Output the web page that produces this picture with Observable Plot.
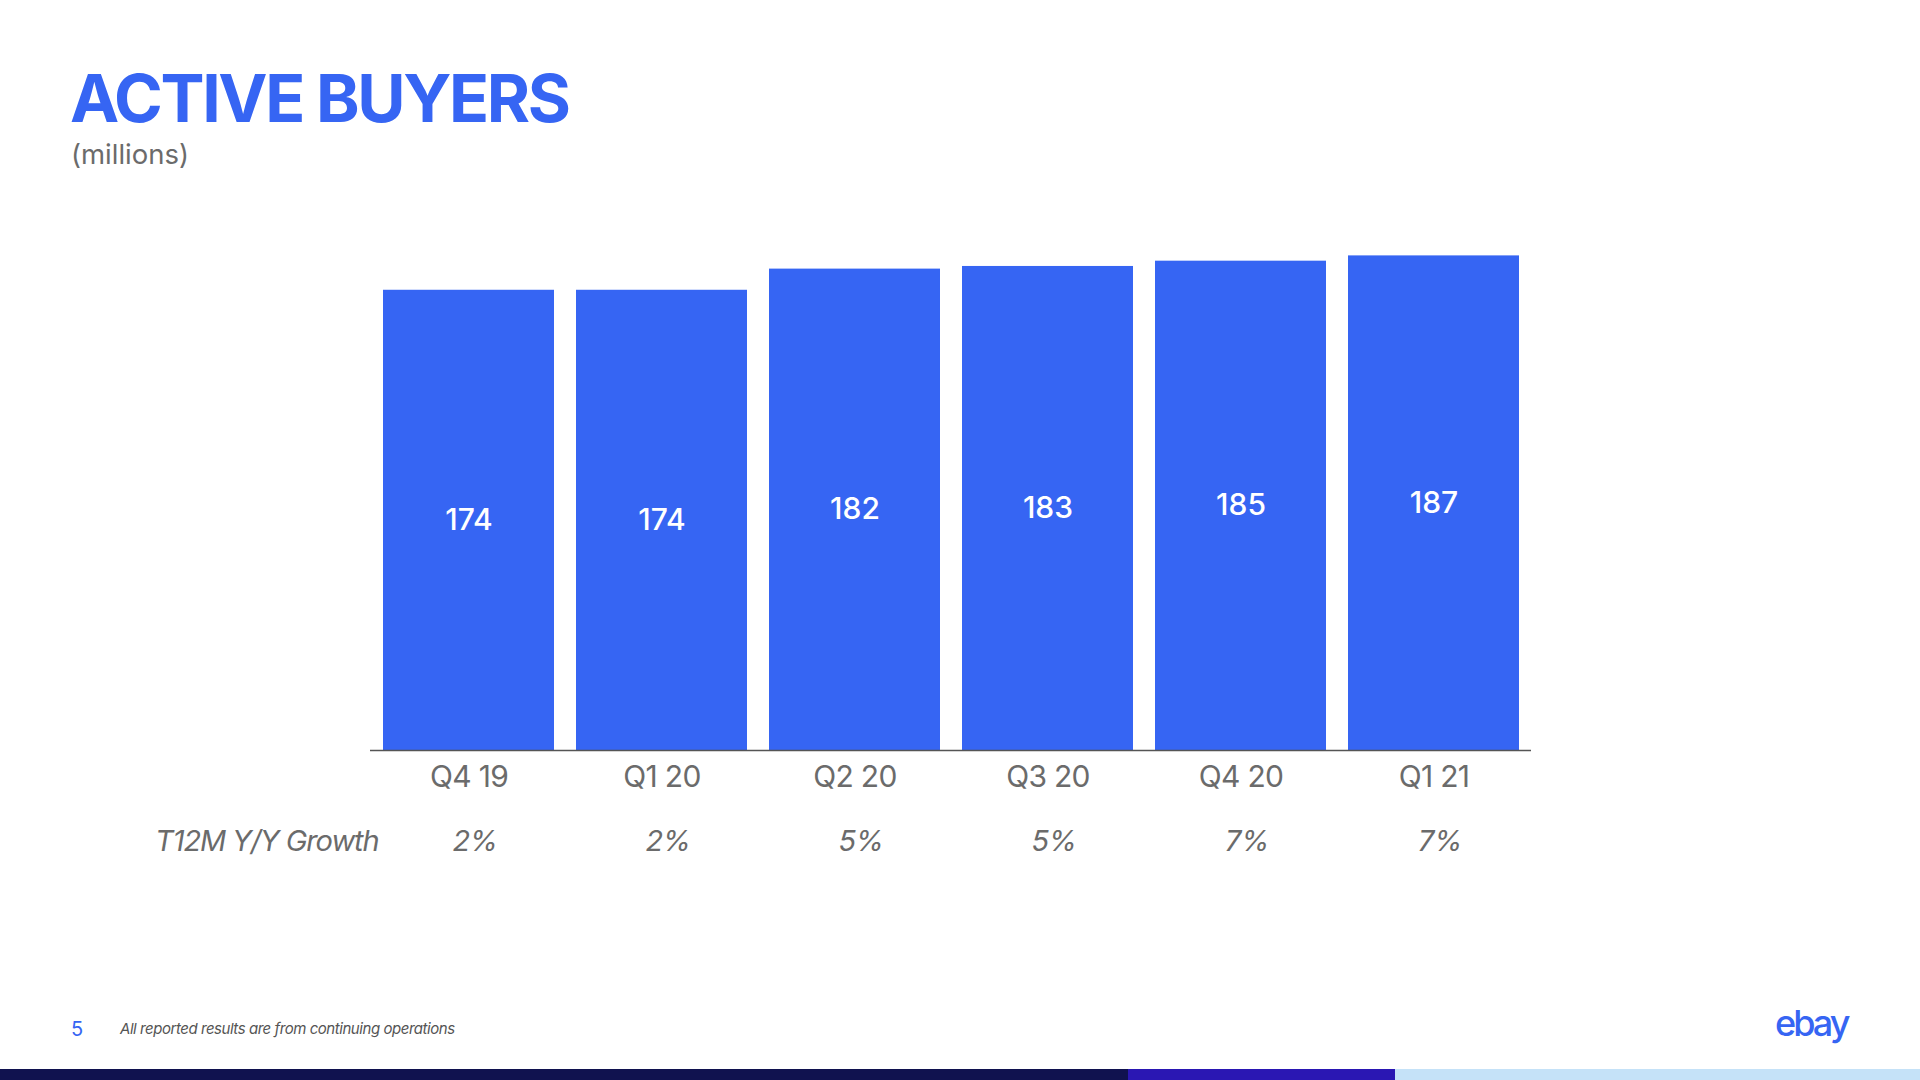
<!DOCTYPE html>
<html>
<head>
<meta charset="utf-8">
<script src="https://cdn.jsdelivr.net/npm/d3@7"></script>
<script src="https://cdn.jsdelivr.net/npm/@observablehq/plot@0.6"></script>
<style>
  html, body { margin: 0; padding: 0; background: #fff; }
  body { width: 1920px; height: 1080px; position: relative; overflow: hidden; font-family: Inter, "Noto Sans", sans-serif; }
  .abs { position: absolute; line-height: 1; white-space: nowrap; }
  #title { left: 70px; top: 72px; font-size: 66px; font-weight: 700; color: #3665f3; letter-spacing: -2.4px; line-height: 0.8; }
  #sub { left: 71px; top: 142px; font-size: 27.5px; color: #6b6b6b; line-height: 0.9; }
  #chart { position: absolute; left: 0; top: 200px; }
  #page { left: 71px; top: 1019px; font-size: 20px; color: #3665f3; }
  #note { left: 120px; top: 1021px; font-size: 15px; font-style: italic; color: #555; letter-spacing: -0.45px; }
  #logo { left: 1775px; top: 1005px; font-size: 36px; font-weight: 500; color: #3665f3; letter-spacing: -3px; }
  .band { position: absolute; top: 1069px; height: 11px; }
  #chart text[aria-label="growth label"] { letter-spacing: -1.1px; }
  #chart g[aria-label="x-axis tick label"] text { letter-spacing: -0.7px; }
  #chart text[aria-label="growth value"] { letter-spacing: -0.5px; }
</style>
</head>
<body>
<div id="title" class="abs">ACTIVE BUYERS</div>
<div id="sub" class="abs">(millions)</div>
<div id="chart"></div>
<div id="page" class="abs">5</div>
<div id="note" class="abs">All reported results are from continuing operations</div>
<div id="logo" class="abs">ebay</div>
<div class="band" style="left:0;width:1128px;background:#10124f"></div>
<div class="band" style="left:1128px;width:267px;background:#2a17b3"></div>
<div class="band" style="left:1395px;width:525px;background:#c5e2f8"></div>
<script>
const quarters = ["Q4 19", "Q1 20", "Q2 20", "Q3 20", "Q4 20", "Q1 21"];
const buyers = [174, 174, 182, 183, 185, 187];
const growth = ["2%", "2%", "5%", "5%", "7%", "7%"];
const growthLabel = "T12M Y/Y Growth";

const data = quarters.map((q, i) => ({q, v: buyers[i], g: growth[i]}));
const gray = "#6b6b6b";

const chart = Plot.plot({
  width: 1920,
  height: 680,
  marginLeft: 370,
  marginRight: 389,
  marginTop: 21,
  marginBottom: 130,
  style: {fontFamily: "Inter, 'Noto Sans', sans-serif", background: "transparent", overflow: "visible"},
  x: {domain: quarters, paddingInner: 0.116, paddingOuter: 0.058, label: null},
  y: {domain: [0, 200], axis: null},
  marks: [
    Plot.barY(data, {x: "q", y: "v", fill: "#3665f3"}),
    Plot.text(data, {x: "q", y: d => d.v / 2, text: d => String(d.v), fill: "#fff", fontSize: 30, fontWeight: 500, lineAnchor: "middle"}),
    Plot.ruleY([0], {stroke: "#555", strokeWidth: 1.5}),
    Plot.axisX({tickSize: 0, tickPadding: 15, fontSize: 30, color: gray, fill: gray, label: null}),
    Plot.text(data, {x: "q", frameAnchor: "bottom", dy: 91, text: "g", fill: gray, fontSize: 29, fontStyle: "italic", lineAnchor: "middle", dx: 6, ariaLabel: () => "growth value"}),
    Plot.text([growthLabel], {frameAnchor: "bottom-left", dx: 8, dy: 91, text: d => d, textAnchor: "end", fill: gray, fontSize: 29, fontStyle: "italic", lineAnchor: "middle", ariaLabel: () => "growth label"})
  ]
});
document.getElementById("chart").appendChild(chart);
</script>
</body>
</html>
